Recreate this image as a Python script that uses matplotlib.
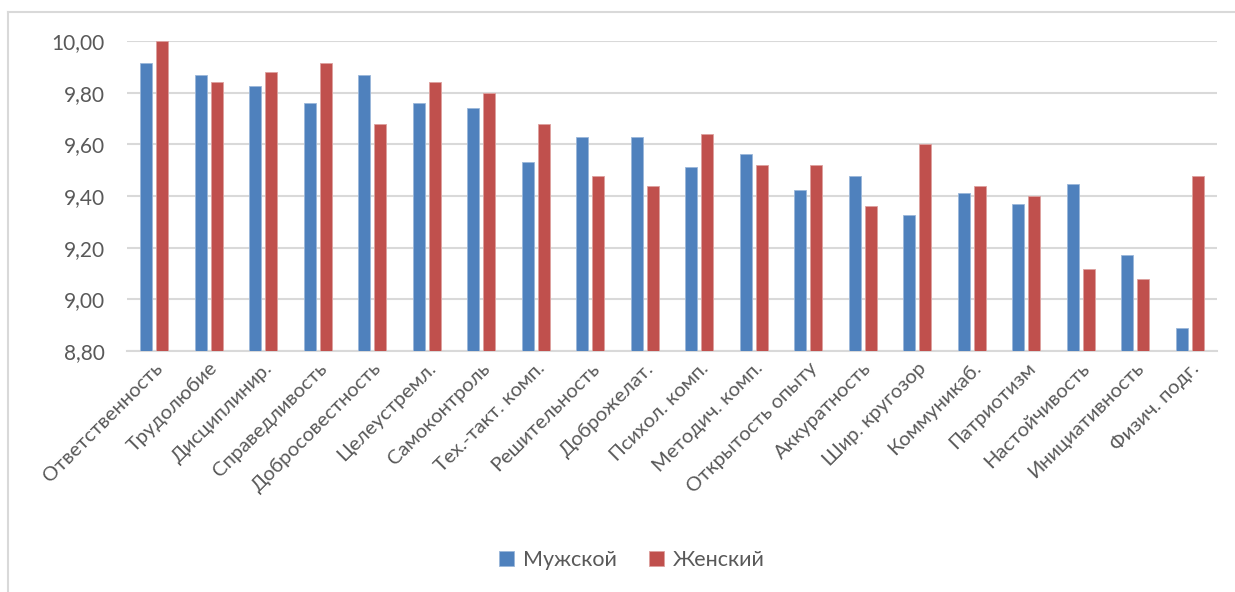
import matplotlib.pyplot as plt
import numpy as np
from matplotlib.lines import Line2D
from matplotlib.ticker import FuncFormatter

plt.rcParams['font.family'] = ['Lato', 'DejaVu Sans']

categories = ['Ответственность', 'Трудолюбие', 'Дисциплинир.', 'Справедливость',
              'Добросовестность', 'Целеустремл.', 'Самоконтроль', 'Тех.-такт. комп.',
              'Решительность', 'Доброжелат.', 'Психол. комп.', 'Методич. комп.',
              'Открытость опыту', 'Аккуратность', 'Шир. кругозор', 'Коммуникаб.',
              'Патриотизм', 'Настойчивость', 'Инициативность', 'Физич. подг.']
male = [9.913, 9.869, 9.825, 9.76, 9.869, 9.76, 9.739, 9.533, 9.63, 9.63,
        9.511, 9.564, 9.422, 9.478, 9.325, 9.412, 9.368, 9.445, 9.173, 8.89]
female = [10.0, 9.84, 9.88, 9.916, 9.678, 9.84, 9.80, 9.679, 9.478, 9.44,
          9.639, 9.52, 9.52, 9.36, 9.60, 9.44, 9.40, 9.119, 9.08, 9.478]
series_names = ['Мужской', 'Женский']

blue = '#4F81BD'
red = '#C0504D'
grey_txt = '#595959'
grid_c = '#D9D9D9'

fig = plt.figure(figsize=(12.35, 5.92), dpi=100)
ax = fig.add_axes([127 / 1235, 1 - 351 / 592, 1090 / 1235, 310 / 592])

x = np.arange(len(categories))
w = 0.22
off = 0.143
ax.bar(x - off, male, w, bottom=0, color=blue, edgecolor='#9BB7DA', linewidth=0.6,
       label=series_names[0], zorder=3)
ax.bar(x + off, female, w, bottom=0, color=red, edgecolor='#DDA09E', linewidth=0.6,
       label=series_names[1], zorder=3)

ax.set_ylim(8.8, 10.0)
ax.set_xlim(-0.5, len(categories) - 0.5)
ax.set_yticks(np.arange(8.8, 10.001, 0.2))
ax.yaxis.set_major_formatter(FuncFormatter(lambda v, p: f'{v:.2f}'.replace('.', ',')))
ax.grid(axis='y', color=grid_c, linewidth=1.5, zorder=0)
ax.tick_params(axis='y', length=0, pad=16, labelsize=15, labelcolor=grey_txt)
ax.tick_params(axis='x', length=0, pad=6, labelsize=14.5, labelcolor=grey_txt)
ax.set_xticks(x)
ax.set_xticklabels(categories, rotation=45, ha='right', rotation_mode='anchor')
for s in ['top', 'right', 'left']:
    ax.spines[s].set_visible(False)
ax.spines['bottom'].set_color(grid_c)
ax.spines['bottom'].set_linewidth(1.5)

fig.legend(loc='center', bbox_to_anchor=(632 / 1235, 1 - 560 / 592), ncol=2,
           frameon=False, fontsize=15.5, labelcolor=grey_txt, handlelength=0.7,
           handleheight=0.7, handletextpad=0.4, columnspacing=1.5)

# chart frame
fig.add_artist(Line2D([8 / 1235, 1], [1 - 12 / 592, 1 - 12 / 592], color=grid_c,
                      linewidth=1.5, transform=fig.transFigure))
fig.add_artist(Line2D([8 / 1235, 8 / 1235], [0, 1 - 12 / 592], color=grid_c,
                      linewidth=1.5, transform=fig.transFigure))

fig.savefig('out.png', dpi=100)
